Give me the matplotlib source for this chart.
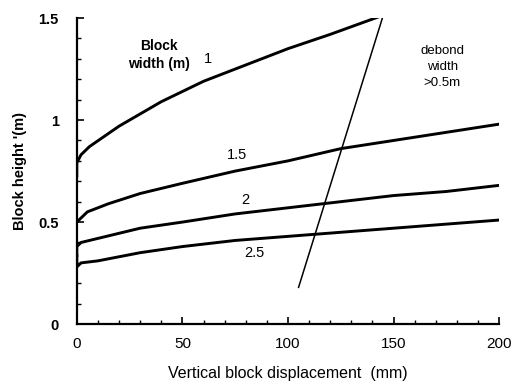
import matplotlib
matplotlib.use("Agg")
import matplotlib.pyplot as plt
from matplotlib.ticker import MultipleLocator

plt.rcParams['font.family'] = ['Liberation Sans', 'DejaVu Sans']

# courbes : déplacement (mm) -> hauteur de bloc (m)
x_w1 = [0, 0, 2, 6, 20, 40, 60, 80, 100, 120, 144]
y_w1 = [0.72, 0.79, 0.83, 0.87, 0.97, 1.09, 1.19, 1.27, 1.35, 1.42, 1.51]

x_w15 = [0, 5, 15, 30, 50, 75, 100, 125, 150, 175, 200]
y_w15 = [0.50, 0.55, 0.59, 0.64, 0.69, 0.75, 0.80, 0.86, 0.90, 0.94, 0.98]

x_w2 = [0, 0, 2, 10, 30, 50, 75, 100, 125, 150, 175, 200]
y_w2 = [0.33, 0.38, 0.40, 0.42, 0.47, 0.50, 0.54, 0.57, 0.60, 0.63, 0.65, 0.68]

x_w25 = [0, 0, 2, 10, 30, 50, 75, 100, 125, 150, 175, 200]
y_w25 = [0.34, 0.28, 0.30, 0.31, 0.35, 0.38, 0.41, 0.43, 0.45, 0.47, 0.49, 0.51]

# limite "debond width > 0.5m"
x_debond = [105, 145]
y_debond = [0.18, 1.51]

width_labels = ['1', '1.5', '2', '2.5']
label_pos = [(62, 1.30), (76, 0.83), (80, 0.61), (84, 0.35)]

fig = plt.figure(figsize=(5.12, 3.84), dpi=100)
ax = fig.add_axes([0.150, 0.156, 0.825, 0.797])

for xs, ys in [(x_w1, y_w1), (x_w15, y_w15), (x_w2, y_w2), (x_w25, y_w25)]:
    ax.plot(xs, ys, color='black', lw=2.1, solid_capstyle='round')
ax.plot(x_debond, y_debond, color='black', lw=1.1)

for lab, (lx, ly) in zip(width_labels, label_pos):
    ax.text(lx, ly, lab, fontsize=10.5, ha='center', va='center', color='black')

ax.text(39, 1.32, 'Block\nwidth (m)', fontsize=10, ha='center', va='center',
        fontweight='bold', linespacing=1.35)
ax.text(173, 1.26, 'debond\nwidth\n>0.5m', fontsize=9.5, ha='center', va='center',
        linespacing=1.4)

ax.set_xlim(0, 200)
ax.set_ylim(0, 1.5)
ax.xaxis.set_major_locator(MultipleLocator(50))
ax.xaxis.set_minor_locator(MultipleLocator(10))
ax.yaxis.set_major_locator(MultipleLocator(0.5))
ax.yaxis.set_minor_locator(MultipleLocator(0.1))
ax.set_yticks([0, 0.5, 1, 1.5])
ax.set_yticklabels(['0', '0.5', '1', '1.5'], fontweight='bold', fontsize=10.5)
ax.set_xticks([0, 50, 100, 150, 200])
ax.set_xticklabels(['0', '50', '100', '150', '200'], fontsize=11)

ax.spines['top'].set_visible(False)
ax.spines['right'].set_visible(False)
ax.spines['left'].set_linewidth(1.6)
ax.spines['bottom'].set_linewidth(1.6)
ax.tick_params(axis='both', which='major', direction='in', length=5, width=1.2)
ax.tick_params(axis='both', which='minor', direction='in', length=3, width=1.0)
ax.tick_params(axis='x', pad=9)
ax.tick_params(axis='y', pad=13)

ax.set_xlabel('Vertical block displacement  (mm)', fontsize=11.5, labelpad=11)
ax.set_ylabel("Block height '(m)", fontsize=10.5, fontweight='bold', labelpad=8)

fig.savefig('out.png', dpi=100)
